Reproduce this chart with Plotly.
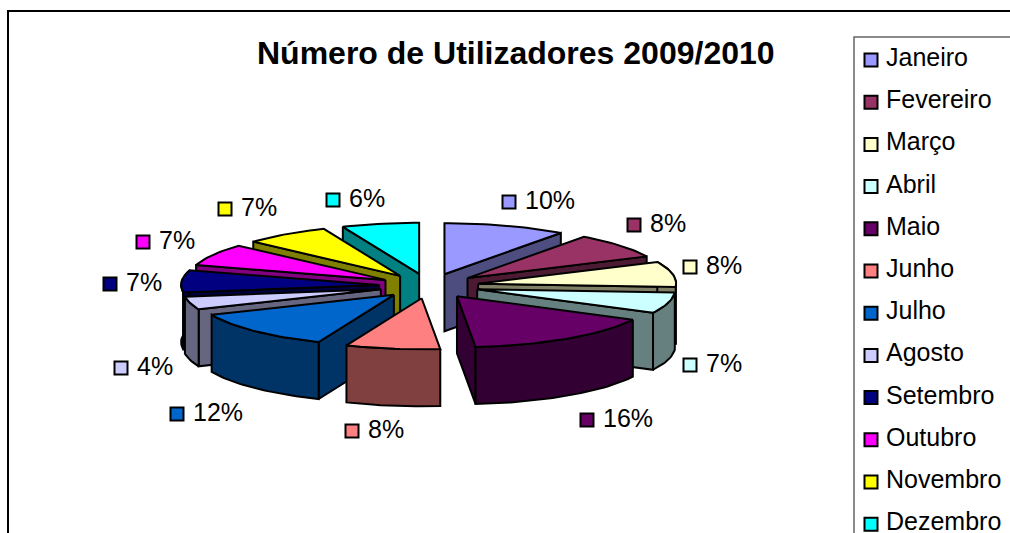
import math
import plotly.graph_objects as go

MONTHS = ["Janeiro", "Fevereiro", "Março", "Abril", "Maio", "Junho", "Julho",
          "Agosto", "Setembro", "Outubro", "Novembro", "Dezembro"]
SHARE = [10.0, 8.0, 8.0, 6.6, 15.9, 7.7, 12.4, 4.1, 7.0, 7.0, 7.0, 6.3]
TOP_COLORS = ["#9999FF", "#993366", "#FFFFCC", "#CCFFFF", "#660066", "#FF8080",
              "#0066CC", "#CCCCFF", "#000080", "#FF00FF", "#FFFF00", "#00FFFF"]
SIDE_COLORS = ["#4D4D80", "#4D1A33", "#808066", "#668080", "#330033", "#804040",
               "#003366", "#666680", "#000040", "#800080", "#808000", "#008080"]
TITLE = "Número de Utilizadores 2009/2010"

# Layout constants of the tilted exploded pie (pixel-scaled axes)
CX, CY = 429, 286
RX, RY = 198, 51
EX, EY = 50, 12.4
DEPTH = 57
LABEL_KEYS = [(509, 202), (634, 225), (690, 267), (690, 365), (587, 420), (352, 431),
              (177, 414), (121, 368), (110, 284), (143, 242), (225, 209), (333, 200)]

fig = go.Figure()


def face(xs, ys, color):
    fig.add_trace(go.Scatter(x=xs + xs[:1], y=ys + ys[:1], mode="lines", fill="toself",
                             fillcolor=color, line=dict(color="black", width=2),
                             hoverinfo="skip", showlegend=False))


total = sum(SHARE)
slices = []
cum = 0
for i, v in enumerate(SHARE):
    t0 = 2 * math.pi * cum / total
    t1 = 2 * math.pi * (cum + v) / total
    cum += v
    slices.append((i, t0, t1))

for i, t0, t1 in sorted(slices, key=lambda s: -math.cos((s[1] + s[2]) / 2)):
    mid = (t0 + t1) / 2
    ax = CX + EX * math.sin(mid)
    ay = CY - EY * math.cos(mid)
    n = max(3, int((t1 - t0) * 40))
    ts = [t0 + (t1 - t0) * k / n for k in range(n + 1)]
    px = [ax + RX * math.sin(t) for t in ts]
    py = [ay - RY * math.cos(t) for t in ts]
    mx, my = ax + RX * 0.5 * math.sin(mid), ay - RY * 0.5 * math.cos(mid)
    # radial walls, drawn only where they face the viewer
    for ex, ey in ((px[0], py[0]), (px[-1], py[-1])):
        dx, dy = ex - ax, ey - ay
        nx, ny = dy, -dx
        if nx * (mx - ax) + ny * (my - ay) > 0:
            nx, ny = -nx, -ny
        if ny > 0:
            face([ax, ex, ex, ax], [ay, ey, ey + DEPTH, ay + DEPTH], SIDE_COLORS[i])
    # outer rim, only for slices reaching the front half
    if any(math.cos(t) < 0 for t in ts):
        face(px + px[::-1], py + [y + DEPTH for y in py[::-1]], SIDE_COLORS[i])
    face([ax] + px, [ay] + py, TOP_COLORS[i])

# percentage labels with their keys
fig.add_trace(go.Scatter(x=[p[0] for p in LABEL_KEYS], y=[p[1] for p in LABEL_KEYS], mode="markers",
                         marker=dict(symbol="square", size=13, color=TOP_COLORS,
                                     line=dict(color="black", width=2)),
                         hoverinfo="skip", showlegend=False))

anns = []
for (x, y), v in zip(LABEL_KEYS, SHARE):
    anns.append(dict(x=x + 14, y=y - 2, text=f"{round(v)}%", showarrow=False, xanchor="left", yanchor="middle",
                     font=dict(family="Liberation Sans", size=25, color="black")))

LEG_X, LEG_Y0, LEG_STEP = 871, 60, 42.2
leg_y = [LEG_Y0 + LEG_STEP * k for k in range(len(MONTHS))]
fig.add_trace(go.Scatter(x=[LEG_X] * len(MONTHS), y=leg_y, mode="markers",
                         marker=dict(symbol="square", size=13, color=TOP_COLORS,
                                     line=dict(color="black", width=2)),
                         hoverinfo="skip", showlegend=False))
for m, y in zip(MONTHS, leg_y):
    anns.append(dict(x=LEG_X + 13, y=y - 3, text=m, showarrow=False, xanchor="left", yanchor="middle",
                     font=dict(family="Liberation Sans", size=25, color="black")))

anns.append(dict(x=516, y=53, text=f"<b>{TITLE}</b>", showarrow=False, xanchor="center", yanchor="middle",
                 font=dict(family="Liberation Sans", size=32, color="black")))

shapes = [
    dict(type="line", x0=8, x1=8, y0=10, y1=540, line=dict(color="black", width=2)),
    dict(type="line", x0=8, x1=1020, y0=11, y1=11, line=dict(color="black", width=2)),
    dict(type="rect", x0=854, x1=1030, y0=37, y1=560, line=dict(color="#666666", width=1.5)),
]

fig.update_layout(
    width=1010, height=533, autosize=False,
    margin=dict(l=0, r=0, t=0, b=0),
    paper_bgcolor="white", plot_bgcolor="white",
    xaxis=dict(range=[0, 1010], visible=False, fixedrange=True),
    yaxis=dict(range=[533, 0], visible=False, fixedrange=True),
    annotations=anns, shapes=shapes, showlegend=False,
)
fig.write_html("out.html", config=dict(displayModeBar=False),
               post_script="document.body.style.margin='0';document.body.style.overflow='hidden';")
